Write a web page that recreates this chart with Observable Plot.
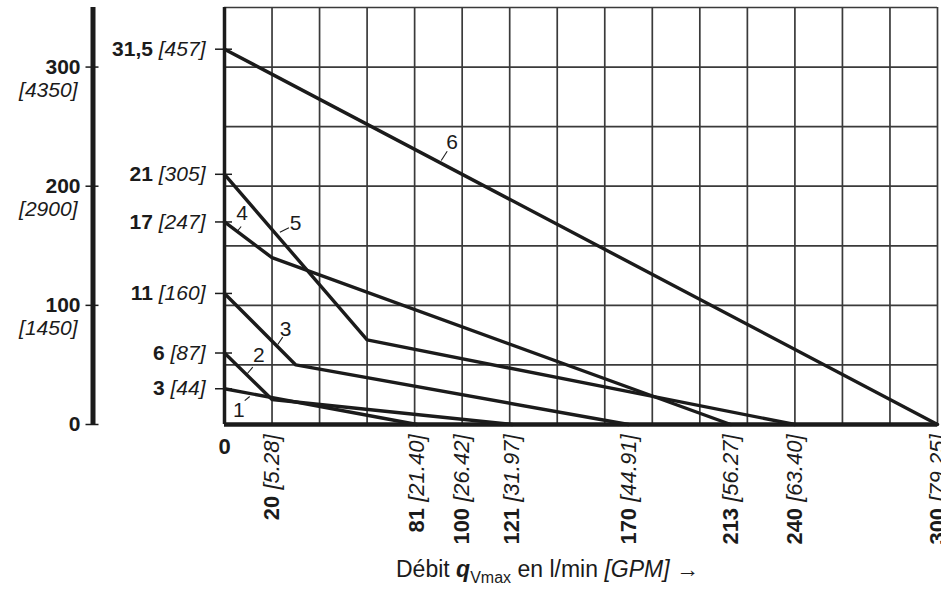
<!DOCTYPE html>
<html><head><meta charset="utf-8">
<script src="https://cdn.jsdelivr.net/npm/d3@7"></script>
<script src="https://cdn.jsdelivr.net/npm/@observablehq/plot@0.6"></script>
<style>
body{margin:0;background:#fff;}
#chart svg{display:block;}
</style></head><body><div id="chart"></div>
<script>
// ---- data ----
const flowTicks = [0, 20, 81, 100, 121, 170, 213, 240, 300];          // l/min
const gpmTicks  = ["", "5.28", "21.40", "26.42", "31.97", "44.91", "56.27", "63.40", "79.25"];
const mpaTicks  = [3, 6, 11, 17, 21, 31.5];                          // MPa
const mpaLabels = ["3", "6", "11", "17", "21", "31,5"];
const psiLabels = ["44", "87", "160", "247", "305", "457"];
const barTicks  = [0, 100, 200, 300];                                // bar
const barPsi    = ["", "1450", "2900", "4350"];
const xGrid = [20, 40, 60, 80, 100, 120, 140, 160, 180, 200, 220, 240, 260, 280, 300];
const yGrid = [5, 10, 15, 20, 25, 30, 35];

const curveIds      = [1, 2, 3, 4, 5, 6];
const curveFlow     = [[0, 81], [0, 20, 121], [0, 30, 170], [0, 20, 213], [0, 60, 240], [0, 300]];
const curvePressure = [[3, 0], [6, 2.1, 0], [11, 5, 0], [17, 14, 0], [21, 7.1, 0], [31.5, 0]];

// curve number annotations (data units) and their leader lines
const labelFlow     = [6.0, 14.4, 25.7, 7.45, 29.9, 95.8];
const labelPressure = [1.2, 5.85, 8.03, 17.69, 16.85, 23.69];
const leaderFlow1   = [8.5, 11.9, 24.5, 7.0, 27.1, 93.7];
const leaderP1      = [2.0, 4.81, 7.33, 16.62, 16.51, 22.94];
const leaderFlow2   = [10.6, 9.55, 22.4, 5.3, 23.3, 91.2];
const leaderP2      = [2.35, 4.26, 6.71, 16.2, 16.14, 22.16];

// ---- tables ----
const curves = curveIds.flatMap((id, k) => curveFlow[k].map((q, j) => ({id, q, p: curvePressure[k][j]})));
const annots = curveIds.map((id, k) => ({id: String(id), q: labelFlow[k], p: labelPressure[k],
  q1: leaderFlow1[k], p1: leaderP1[k], q2: leaderFlow2[k], p2: leaderP2[k]}));
const xLabels = flowTicks.map((q, k) => ({q, label: gpmTicks[k] ? `${q} [${gpmTicks[k]}]` : String(q)}));
const yLabels = mpaTicks.map((p, k) => ({p, label: `${mpaLabels[k]} [${psiLabels[k]}]`}));
const barRows = barTicks.map((b, k) => ({p: b / 10, bar: String(b), psi: barPsi[k] ? `[${barPsi[k]}]` : ""}));

const FONT = "'Liberation Sans', Arial, Helvetica, sans-serif";
const INK = "#1b1b1b";
const OUTER_DX = -131.5;

const chart = Plot.plot({
  width: 941, height: 591,
  marginLeft: 224, marginRight: 4, marginTop: 7, marginBottom: 167,
  x: {domain: [0, 300], axis: null},
  y: {domain: [0, 35], axis: null},
  style: {fontFamily: FONT, background: "#fff", color: INK, overflow: "visible"},
  marks: [
    // grid
    Plot.ruleX(xGrid, {stroke: "#3a3a3a", strokeWidth: 1.7}),
    Plot.ruleY(yGrid, {stroke: "#3a3a3a", strokeWidth: 1.7}),
    // frame axes
    Plot.ruleX([0], {stroke: INK, strokeWidth: 3.5}),
    Plot.ruleY([0], {stroke: INK, strokeWidth: 4.5}),
    // curves
    Plot.line(curves, {x: "q", y: "p", z: "id", stroke: INK, strokeWidth: 3.4, strokeLinejoin: "miter"}),
    // leaders + numbers
    Plot.link(annots, {x1: "q1", y1: "p1", x2: "q2", y2: "p2", stroke: INK, strokeWidth: 1.1}),
    Plot.text(annots, {x: "q", y: "p", text: "id", fontSize: 21, fill: INK, textAnchor: "middle", lineAnchor: "middle"}),
    // inner (MPa / psi) ticks and labels
    Plot.ruleY(yLabels, {y: "p", x1: 0, x2: 0, insetLeft: -9, insetRight: -8, stroke: INK, strokeWidth: 1.5}),
    Plot.text(yLabels, {x: 0, y: "p", text: "label", textAnchor: "end", lineAnchor: "middle", dx: -19, fontSize: 21, fill: INK}),
    // outer (bar / psi) axis
    Plot.ruleX([0], {dx: OUTER_DX, stroke: INK, strokeWidth: 5}),
    Plot.ruleY(barRows, {y: "p", x1: 0, x2: 0, dx: OUTER_DX, insetLeft: -7, insetRight: -6, stroke: INK, strokeWidth: 1.5}),
    Plot.text(barRows, {x: 0, y: "p", text: "bar", dx: -144, textAnchor: "end", lineAnchor: "middle", fontSize: 21, fontWeight: "bold", fill: INK}),
    Plot.text(barRows, {x: 0, y: "p", text: "psi", dx: -147, dy: 23, textAnchor: "end", lineAnchor: "middle", fontSize: 21, fontStyle: "italic", fill: INK}),
    // x labels
    Plot.text(xLabels.filter(d => d.q === 0), {x: "q", y: 0, text: "label", dy: 22, textAnchor: "middle", lineAnchor: "middle", fontSize: 22, fontWeight: "bold", fill: INK}),
    Plot.text(xLabels.filter(d => d.q !== 0), {x: "q", y: 0, text: "label", rotate: -90, dy: 10, textAnchor: "end", lineAnchor: "middle", fontSize: 22, fill: INK})
  ]
});

// mixed styling: bold value + italic bracket
chart.querySelectorAll("text").forEach(t => {
  const m = t.textContent.match(/^(\S+) (\[.+\])$/);
  if (!m) return;
  t.textContent = "";
  const a = document.createElementNS("http://www.w3.org/2000/svg", "tspan");
  a.setAttribute("font-weight", "bold");
  a.textContent = m[1] + " ";
  const b = document.createElementNS("http://www.w3.org/2000/svg", "tspan");
  b.setAttribute("font-style", "italic");
  b.textContent = m[2];
  t.append(a, b);
});

// axis title
const title = d3.select(chart).append("text")
  .attr("x", 396).attr("y", 577).attr("text-anchor", "start")
  .attr("font-size", 23).attr("fill", INK).attr("font-family", FONT);
title.append("tspan").text("Débit ");
title.append("tspan").attr("font-weight", "bold").attr("font-style", "italic").text("q");
title.append("tspan").attr("font-size", 16).attr("dy", 6).text("Vmax");
title.append("tspan").attr("dy", -6).text(" en l/min ");
title.append("tspan").attr("font-style", "italic").text("[GPM]");
title.append("tspan").text(" →");

document.getElementById("chart").append(chart);
</script></body></html>
